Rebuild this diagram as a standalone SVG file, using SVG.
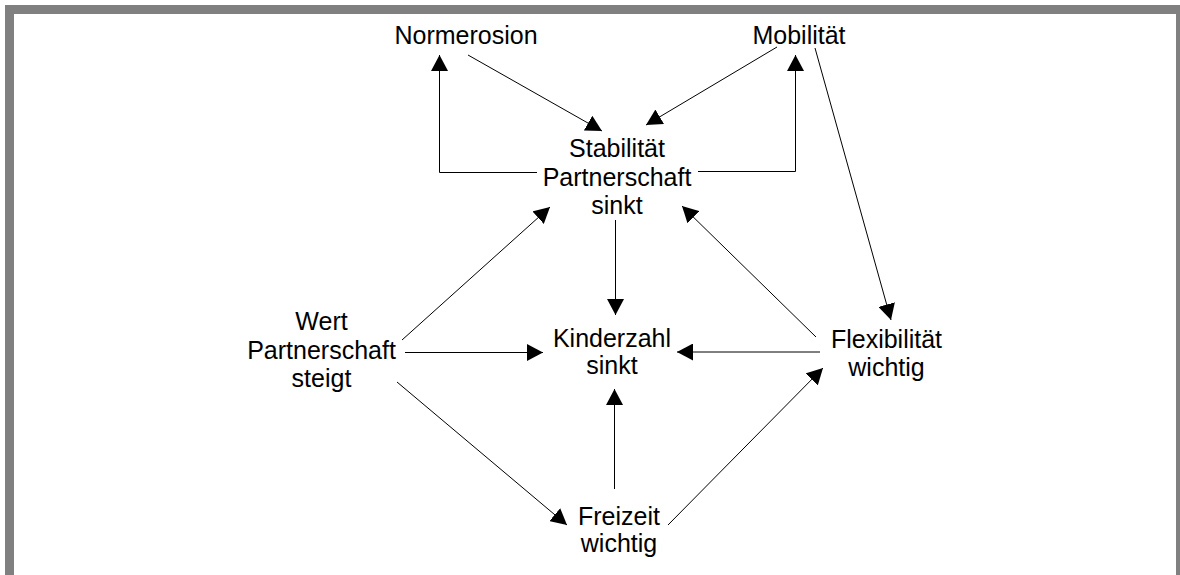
<svg xmlns="http://www.w3.org/2000/svg" width="1180" height="575" viewBox="0 0 1180 575">
<style>
  .lbl { font-family: "Liberation Sans", Arial, sans-serif; font-size: 25px; fill: #000; text-anchor: middle; }
  .con { stroke: #000; stroke-width: 1; fill: none; marker-end: url(#ah); }
</style>
<defs>
  <marker id="ah" markerUnits="userSpaceOnUse" markerWidth="17" markerHeight="17" refX="16" refY="8.5" orient="auto">
    <path d="M0,0 L16,8.5 L0,17 z" fill="#000"/>
  </marker>
</defs>
<rect x="0" y="0" width="1180" height="575" fill="#fff"/>
<rect x="9.5" y="9.5" width="1171" height="620" fill="none" stroke="#808080" stroke-width="9"/>

<g id="connectors">
  <line class="con" x1="468" y1="55" x2="602" y2="131"/>
  <line class="con" x1="777" y1="47" x2="646" y2="125"/>
  <polyline class="con" points="537,172.5 439.5,172.5 439.5,55"/>
  <polyline class="con" points="698,171.5 795.5,171.5 795.5,55"/>
  <line class="con" x1="815" y1="48" x2="891" y2="320"/>
  <line class="con" x1="615.5" y1="220" x2="615.5" y2="315"/>
  <line class="con" x1="402" y1="340" x2="550" y2="207"/>
  <line class="con" x1="816" y1="337" x2="682" y2="206"/>
  <line class="con" x1="405" y1="352.5" x2="543" y2="352.5"/>
  <line class="con" x1="820" y1="352" x2="677" y2="352"/>
  <line class="con" x1="614.5" y1="489" x2="614.5" y2="389"/>
  <line class="con" x1="397" y1="382" x2="567" y2="525"/>
  <line class="con" x1="668" y1="525" x2="823" y2="368"/>
</g>

<g id="normerosion"><text class="lbl" x="466" y="43.5">Normerosion</text></g>
<g id="mobilitaet"><text class="lbl" x="799" y="43.5">Mobilität</text></g>
<g id="stabilitaet">
  <text class="lbl" x="617" y="157">Stabilität</text>
  <text class="lbl" x="617" y="185.5">Partnerschaft</text>
  <text class="lbl" x="617" y="214">sinkt</text>
</g>
<g id="wert">
  <text class="lbl" x="321.5" y="330">Wert</text>
  <text class="lbl" x="321.5" y="358.5">Partnerschaft</text>
  <text class="lbl" x="321.5" y="387">steigt</text>
</g>
<g id="kinderzahl">
  <text class="lbl" x="612" y="346.5">Kinderzahl</text>
  <text class="lbl" x="612" y="374">sinkt</text>
</g>
<g id="flexibilitaet">
  <text class="lbl" x="886.5" y="348">Flexibilität</text>
  <text class="lbl" x="886.5" y="376">wichtig</text>
</g>
<g id="freizeit">
  <text class="lbl" x="619" y="525">Freizeit</text>
  <text class="lbl" x="619" y="552">wichtig</text>
</g>
</svg>
